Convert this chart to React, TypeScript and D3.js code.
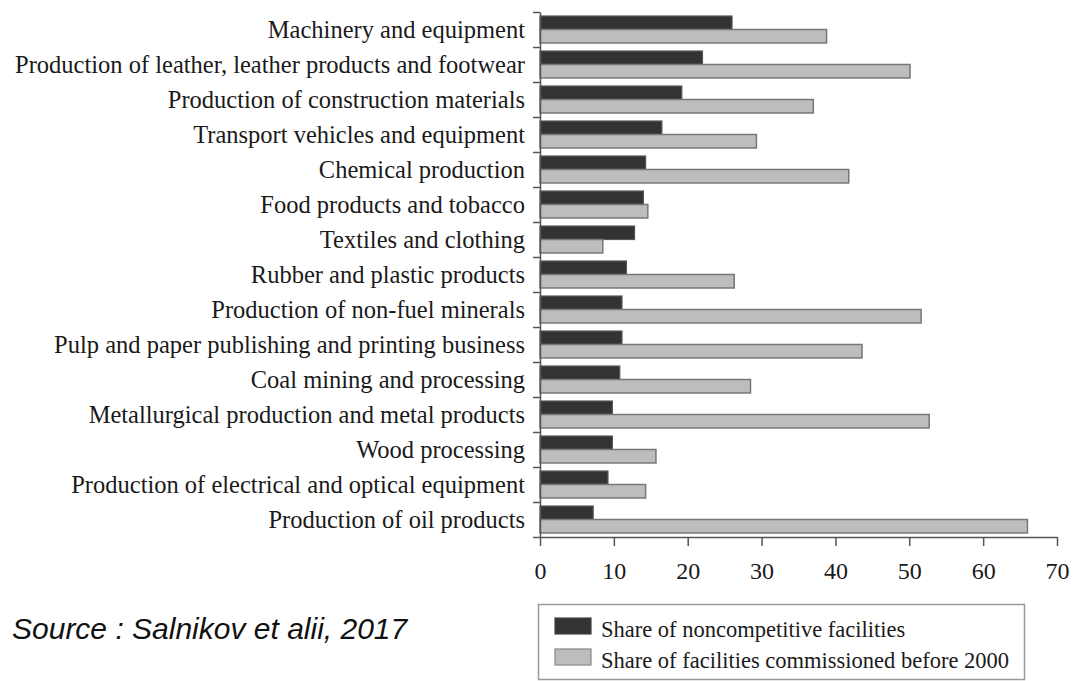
import React, { useEffect, useRef } from 'react';
import * as d3 from 'd3';

// categories, top to bottom
const categories = [
    "Machinery and equipment",
    "Production of leather, leather products and footwear",
    "Production of construction materials",
    "Transport vehicles and equipment",
    "Chemical production",
    "Food products and tobacco",
    "Textiles and clothing",
    "Rubber and plastic products",
    "Production of non-fuel minerals",
    "Pulp and paper publishing and printing business",
    "Coal mining and processing",
    "Metallurgical production and metal products",
    "Wood processing",
    "Production of electrical and optical equipment",
    "Production of oil products",
];

// share of noncompetitive facilities (%)
const noncompetitive = [26.0, 22.0, 19.2, 16.5, 14.3, 14.0, 12.8, 11.7, 11.1, 11.1, 10.8, 9.8, 9.8, 9.2, 7.2];

// share of facilities commissioned before 2000 (%)
const before2000 = [38.8, 50.1, 37.0, 29.3, 41.8, 14.6, 8.5, 26.3, 51.6, 43.6, 28.5, 52.7, 15.7, 14.3, 66.0];

const xTicks = [0, 10, 20, 30, 40, 50, 60, 70];

const legendLabels = [
    "Share of noncompetitive facilities",
    "Share of facilities commissioned before 2000",
];

const sourceNote = "Source : Salnikov et alii, 2017";

const App: React.FC = () => {
    const ref = useRef<SVGSVGElement>(null);

    useEffect(() => {
        const svg = d3.select(ref.current);
        svg.selectAll("*").remove();

        const width = 1076;
        const height = 681;
        const marginTop = 12;
        const marginLeft = 540;
        const plotRight = 1057;
        const plotBottom = 537;
        const serif = "'Liberation Serif', 'Times New Roman', serif";

        const darkFill = "#333333";
        const lightFill = "#bdbdbd";

        svg.attr("viewBox", [0, 0, width, height]);

        const x = d3.scaleLinear()
            .domain([0, 70])
            .range([marginLeft, plotRight]);

        const y = d3.scaleBand()
            .domain(categories)
            .range([marginTop, plotBottom]);

        const bw = y.bandwidth();
        const inset = bw * 0.115;
        const barH = bw * 0.385;

        // bars
        const rows = svg.append("g")
            .selectAll("g")
            .data(categories)
            .join("g");

        rows.append("rect")
            .attr("x", x(0))
            .attr("y", d => y(d) + inset)
            .attr("width", (d, i) => x(noncompetitive[i]) - x(0))
            .attr("height", barH)
            .attr("fill", darkFill)
            .attr("stroke", "#555")
            .attr("stroke-width", 1.2);

        rows.append("rect")
            .attr("x", x(0))
            .attr("y", d => y(d) + inset + barH)
            .attr("width", (d, i) => x(before2000[i]) - x(0))
            .attr("height", barH)
            .attr("fill", lightFill)
            .attr("stroke", "#777")
            .attr("stroke-width", 1.5);

        // category labels
        svg.append("g")
            .selectAll("text")
            .data(categories)
            .join("text")
            .attr("x", marginLeft - 15)
            .attr("y", d => y(d) + bw / 2)
            .attr("dy", "0.33em")
            .attr("text-anchor", "end")
            .attr("font-family", serif)
            .attr("font-size", 24.5)
            .attr("fill", "#1a1a1a")
            .text(d => d);

        // left axis, ticks sit on the band boundaries
        const yEdges = d3.scaleLinear()
            .domain([0, categories.length])
            .range([marginTop, plotBottom]);

        svg.append("g")
            .attr("transform", `translate(${marginLeft},0)`)
            .call(d3.axisLeft(yEdges)
                .tickValues(d3.range(categories.length + 1))
                .tickFormat(() => "")
                .tickSize(7)
                .tickSizeOuter(0))
            .call(g => g.selectAll("line, path")
                .attr("stroke", "#555")
                .attr("stroke-width", 1.5));

        // bottom axis
        svg.append("g")
            .attr("transform", `translate(0,${plotBottom})`)
            .call(d3.axisBottom(x)
                .tickValues(xTicks)
                .tickSize(9)
                .tickSizeOuter(0)
                .tickPadding(16))
            .call(g => g.selectAll("line, path")
                .attr("stroke", "#555")
                .attr("stroke-width", 1.5))
            .call(g => g.selectAll("text")
                .attr("font-family", serif)
                .attr("font-size", 24)
                .attr("fill", "#1a1a1a"));

        // legend
        const legend = svg.append("g");
        legend.append("rect")
            .attr("x", 538.5)
            .attr("y", 604.5)
            .attr("width", 486)
            .attr("height", 75)
            .attr("fill", "white")
            .attr("stroke", "#999")
            .attr("stroke-width", 1.5);

        const legendItems = legend.selectAll(".legend-item")
            .data(legendLabels)
            .join("g")
            .attr("class", "legend-item")
            .attr("transform", (d, i) => `translate(555, ${618 + i * 31})`);

        legendItems.append("rect")
            .attr("width", 36)
            .attr("height", 16)
            .attr("fill", (d, i) => i === 0 ? darkFill : lightFill)
            .attr("stroke", (d, i) => i === 0 ? "#444" : "#888")
            .attr("stroke-width", 1.2);

        legendItems.append("text")
            .attr("x", 46)
            .attr("y", 19)
            .attr("font-family", serif)
            .attr("font-size", 22.5)
            .attr("fill", "#1a1a1a")
            .text(d => d);

        // source note
        svg.append("text")
            .attr("x", 12)
            .attr("y", 639)
            .attr("font-family", "'Liberation Sans', Arial, sans-serif")
            .attr("font-style", "italic")
            .attr("font-size", 30)
            .attr("fill", "#111")
            .text(sourceNote);
    }, []);

    return (
        <svg ref={ref} width={1076} height={681}
            style={{ position: "absolute", left: 0, top: 0, background: "white" }} />
    );
};

export default App;
